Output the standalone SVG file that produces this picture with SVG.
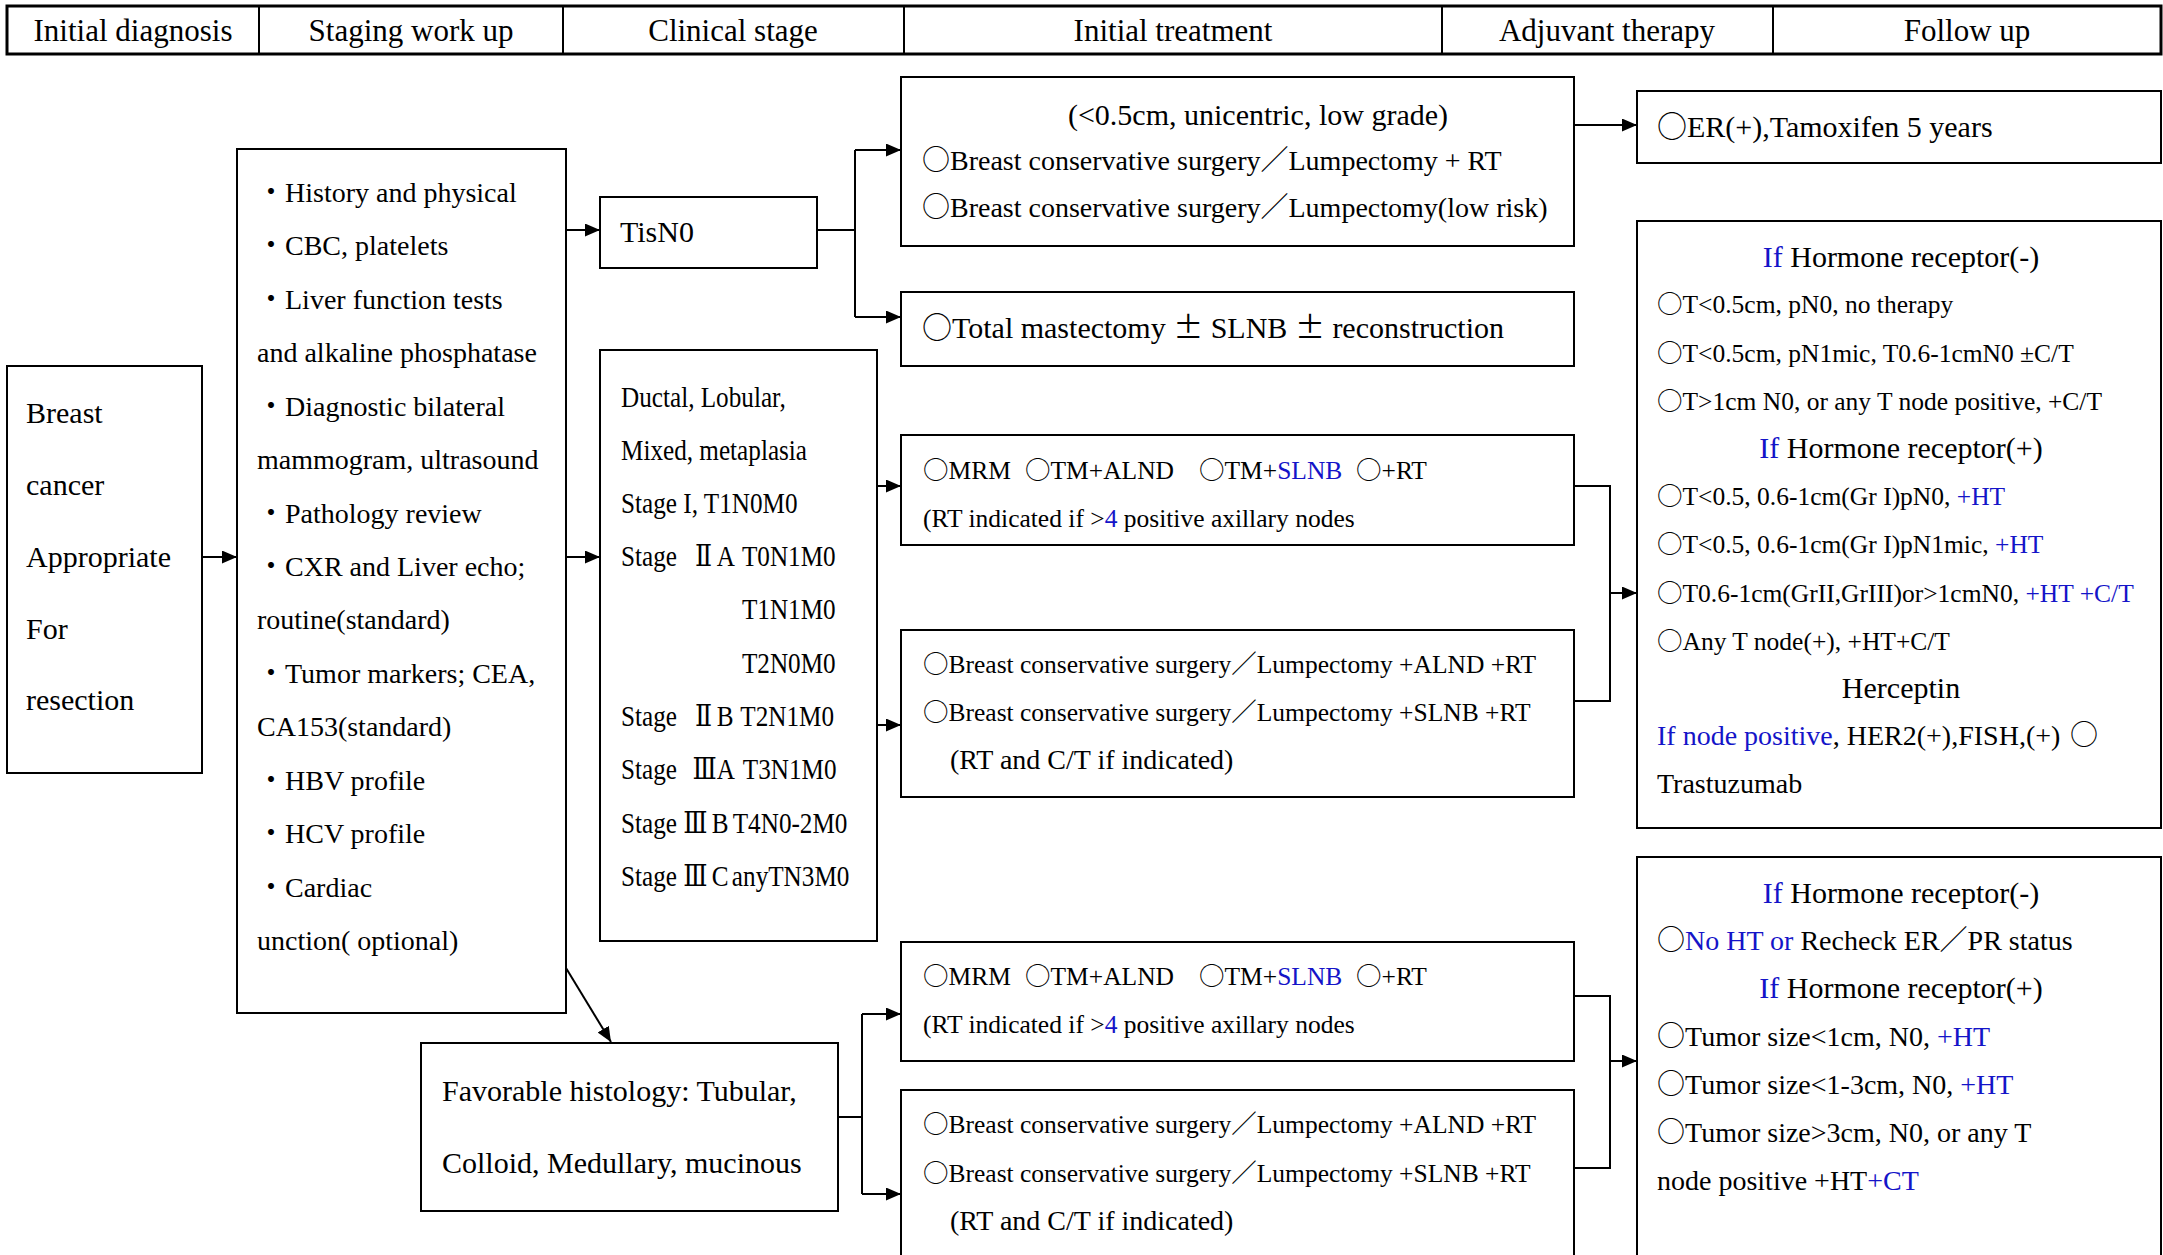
<svg xmlns="http://www.w3.org/2000/svg" width="2163" height="1255" viewBox="0 0 2163 1255">
<defs>
<style>
.box{fill:#fff;stroke:#000;stroke-width:2}
.hdr{fill:#fff;stroke:#000;stroke-width:3}
.t{font-family:"Liberation Serif","Noto Sans CJK TC",serif;fill:#000}
.b{fill:#1414c8}
.c{font-family:"Noto Sans CJK TC",sans-serif}
.r{font-family:"DejaVu Serif","Noto Sans CJK TC",serif}
.conn{fill:none;stroke:#000;stroke-width:2}
.h{font-size:31px;text-anchor:middle}
.s25{font-size:25.5px}
.s28{font-size:28px}
.s30{font-size:30px}
.mid{text-anchor:middle}
</style>
<marker id="ah" markerWidth="15" markerHeight="13" refX="15" refY="6.5" orient="auto" markerUnits="userSpaceOnUse"><path d="M0,0 L15,6.5 L0,13 z" fill="#000"/></marker>
</defs>
<rect width="2163" height="1255" fill="#fff"/>

<g id="header">
<rect class="hdr" x="7" y="6" width="2154" height="48"/>
<path class="conn" d="M259,6 V54 M563,6 V54 M904,6 V54 M1442,6 V54 M1773,6 V54"/>
<text class="t h" x="133" y="41">Initial diagnosis</text>
<text class="t h" x="411" y="41">Staging work up</text>
<text class="t h" x="733" y="41">Clinical stage</text>
<text class="t h" x="1173" y="41">Initial treatment</text>
<text class="t h" x="1607" y="41">Adjuvant therapy</text>
<text class="t h" x="1967" y="41">Follow up</text>
</g>

<g id="connectors">
<path class="conn" d="M201,557 H237" marker-end="url(#ah)"/>
<path class="conn" d="M566,230 H600" marker-end="url(#ah)"/>
<path class="conn" d="M566,557 H600" marker-end="url(#ah)"/>
<path class="conn" d="M817,230 H855 M855,150 V317"/>
<path class="conn" d="M855,150 H901" marker-end="url(#ah)"/>
<path class="conn" d="M855,317 H901" marker-end="url(#ah)"/>
<path class="conn" d="M1574,125 H1637" marker-end="url(#ah)"/>
<path class="conn" d="M877,486 H901" marker-end="url(#ah)"/>
<path class="conn" d="M877,725 H901" marker-end="url(#ah)"/>
<path class="conn" d="M1574,486 H1610 V701 H1574"/>
<path class="conn" d="M1610,593 H1637" marker-end="url(#ah)"/>
<path class="conn" d="M566,968 L611,1042" marker-end="url(#ah)"/>
<path class="conn" d="M838,1117 H862 M862,1014 V1194"/>
<path class="conn" d="M862,1014 H901" marker-end="url(#ah)"/>
<path class="conn" d="M862,1194 H901" marker-end="url(#ah)"/>
<path class="conn" d="M1574,996 H1610 V1168 H1574"/>
<path class="conn" d="M1610,1061 H1637" marker-end="url(#ah)"/>
</g>

<g id="breast-cancer">
<rect class="box" x="7" y="366" width="195" height="407"/>
<text class="t s30" x="26" y="423">Breast</text>
<text class="t s30" x="26" y="495">cancer</text>
<text class="t s30" x="26" y="567">Appropriate</text>
<text class="t s30" x="26" y="639">For</text>
<text class="t s30" x="26" y="710">resection</text>
</g>

<g id="staging-workup">
<rect class="box" x="237" y="149" width="329" height="864"/>
<g class="t s28">
<text x="257" y="202">・History and physical</text>
<text x="257" y="255">・CBC, platelets</text>
<text x="257" y="309">・Liver function tests</text>
<text x="257" y="362">and alkaline phosphatase</text>
<text x="257" y="416">・Diagnostic bilateral</text>
<text x="257" y="469">mammogram, ultrasound</text>
<text x="257" y="523">・Pathology review</text>
<text x="257" y="576">・CXR and Liver echo;</text>
<text x="257" y="629">routine(standard)</text>
<text x="257" y="683">・Tumor markers; CEA,</text>
<text x="257" y="736">CA153(standard)</text>
<text x="257" y="790">・HBV profile</text>
<text x="257" y="843">・HCV profile</text>
<text x="257" y="897">・Cardiac</text>
<text x="257" y="950">unction( optional)</text>
</g>
</g>

<g id="tisn0">
<rect class="box" x="600" y="197" width="217" height="71"/>
<text class="t s30" x="620" y="242">TisN0</text>
</g>

<g id="clinical-stage">
<rect class="box" x="600" y="350" width="277" height="591"/>
<g class="t s30" transform="translate(621,0) scale(0.84,1)">
<text x="0" y="407">Ductal, Lobular,</text>
<text x="0" y="460">Mixed, metaplasia</text>
<text x="0" y="513">Stage I, T1N0M0</text>
<text x="0" y="566">Stage<tspan class="r" x="88">Ⅱ</tspan><tspan x="114">A</tspan><tspan x="144">T0N1M0</tspan></text>
<text x="144" y="619">T1N1M0</text>
<text x="144" y="673">T2N0M0</text>
<text x="0" y="726">Stage<tspan class="r" x="88">Ⅱ</tspan><tspan x="114">B</tspan><tspan x="142">T2N1M0</tspan></text>
<text x="0" y="779">Stage<tspan class="r" x="85">Ⅲ</tspan><tspan x="114">A</tspan><tspan x="145">T3N1M0</tspan></text>
<text x="0" y="833">Stage<tspan class="r" x="74">Ⅲ</tspan><tspan x="108">B</tspan><tspan x="133">T4N0-2M0</tspan></text>
<text x="0" y="886">Stage<tspan class="r" x="74">Ⅲ</tspan><tspan x="108">C</tspan><tspan x="132">anyTN3M0</tspan></text>
</g>
</g>

<g id="treat-a">
<rect class="box" x="901" y="77" width="673" height="169"/>
<text class="t s30 mid" x="1258" y="125">(&lt;0.5cm, unicentric, low grade)</text>
<text class="t s28" x="922" y="170"><tspan class="c">○</tspan>Breast conservative surgery／Lumpectomy + RT</text>
<text class="t s28" x="922" y="217"><tspan class="c">○</tspan>Breast conservative surgery／Lumpectomy(low risk)</text>
</g>

<g id="treat-b">
<rect class="box" x="901" y="292" width="673" height="74"/>
<text class="t s30" x="922" y="338" xml:space="preserve"><tspan class="c">○</tspan>Total mastectomy <tspan class="c">±</tspan> SLNB <tspan class="c">±</tspan> reconstruction</text>
</g>

<g id="treat-c">
<rect class="box" x="901" y="435" width="673" height="110"/>
<text class="t s25" x="923" y="479"><tspan class="c">○</tspan>MRM<tspan class="c" x="1025">○</tspan>TM+ALND<tspan class="c" x="1199">○</tspan>TM+<tspan class="b">SLNB</tspan><tspan class="c" x="1356">○</tspan>+RT</text>
<text class="t s25" x="923" y="527">(RT indicated if &gt;<tspan class="b">4</tspan> positive axillary nodes</text>
</g>

<g id="treat-d">
<rect class="box" x="901" y="630" width="673" height="167"/>
<text class="t s25" x="923" y="673"><tspan class="c">○</tspan>Breast conservative surgery／Lumpectomy +ALND +RT</text>
<text class="t s25" x="923" y="721"><tspan class="c">○</tspan>Breast conservative surgery／Lumpectomy +SLNB +RT</text>
<text class="t s28" x="950" y="769">(RT and C/T if indicated)</text>
</g>

<g id="er-tamoxifen">
<rect class="box" x="1637" y="91" width="524" height="72"/>
<text class="t s30" x="1657" y="137"><tspan class="c">○</tspan>ER(+),Tamoxifen 5 years</text>
</g>

<g id="adjuvant-1">
<rect class="box" x="1637" y="221" width="524" height="607"/>
<text class="t s30 mid" x="1901" y="267"><tspan class="b">If</tspan> Hormone receptor(-)</text>
<text class="t s25" x="1657" y="313"><tspan class="c">○</tspan>T&lt;0.5cm, pN0, no therapy</text>
<text class="t s25" x="1657" y="362"><tspan class="c">○</tspan>T&lt;0.5cm, pN1mic, T0.6-1cmN0 ±C/T</text>
<text class="t s25" x="1657" y="410"><tspan class="c">○</tspan>T&gt;1cm N0, or any T node positive, +C/T</text>
<text class="t s30 mid" x="1901" y="458"><tspan class="b">If</tspan> Hormone receptor(+)</text>
<text class="t s25" x="1657" y="505"><tspan class="c">○</tspan>T&lt;0.5, 0.6-1cm(Gr I)pN0, <tspan class="b">+HT</tspan></text>
<text class="t s25" x="1657" y="553"><tspan class="c">○</tspan>T&lt;0.5, 0.6-1cm(Gr I)pN1mic, <tspan class="b">+HT</tspan></text>
<text class="t s25" x="1657" y="602"><tspan class="c">○</tspan>T0.6-1cm(GrII,GrIII)or&gt;1cmN0, <tspan class="b">+HT +C/T</tspan></text>
<text class="t s25" x="1657" y="650"><tspan class="c">○</tspan>Any T node(+), +HT+C/T</text>
<text class="t s30 mid" x="1901" y="698">Herceptin</text>
<text class="t s28" x="1657" y="745"><tspan class="b">If node positive</tspan>, HER2(+),FISH,(+)<tspan class="c" x="2070">○</tspan></text>
<text class="t s28" x="1657" y="793">Trastuzumab</text>
</g>

<g id="favorable-histology">
<rect class="box" x="421" y="1043" width="417" height="168"/>
<text class="t s30" x="442" y="1101">Favorable histology: Tubular,</text>
<text class="t s30" x="442" y="1173">Colloid, Medullary, mucinous</text>
</g>

<g id="treat-e">
<rect class="box" x="901" y="942" width="673" height="119"/>
<text class="t s25" x="923" y="985"><tspan class="c">○</tspan>MRM<tspan class="c" x="1025">○</tspan>TM+ALND<tspan class="c" x="1199">○</tspan>TM+<tspan class="b">SLNB</tspan><tspan class="c" x="1356">○</tspan>+RT</text>
<text class="t s25" x="923" y="1033">(RT indicated if &gt;<tspan class="b">4</tspan> positive axillary nodes</text>
</g>

<g id="treat-f">
<rect class="box" x="901" y="1090" width="673" height="200"/>
<text class="t s25" x="923" y="1133"><tspan class="c">○</tspan>Breast conservative surgery／Lumpectomy +ALND +RT</text>
<text class="t s25" x="923" y="1182"><tspan class="c">○</tspan>Breast conservative surgery／Lumpectomy +SLNB +RT</text>
<text class="t s28" x="950" y="1230">(RT and C/T if indicated)</text>
</g>

<g id="adjuvant-2">
<rect class="box" x="1637" y="857" width="524" height="450"/>
<text class="t s30 mid" x="1901" y="903"><tspan class="b">If</tspan> Hormone receptor(-)</text>
<text class="t s28" x="1657" y="950"><tspan class="c">○</tspan><tspan class="b">No HT or</tspan> Recheck ER／PR status</text>
<text class="t s30 mid" x="1901" y="998"><tspan class="b">If</tspan> Hormone receptor(+)</text>
<text class="t s28" x="1657" y="1046"><tspan class="c">○</tspan>Tumor size&lt;1cm, N0, <tspan class="b">+HT</tspan></text>
<text class="t s28" x="1657" y="1094"><tspan class="c">○</tspan>Tumor size&lt;1-3cm, N0, <tspan class="b">+HT</tspan></text>
<text class="t s28" x="1657" y="1142"><tspan class="c">○</tspan>Tumor size&gt;3cm, N0, or any T</text>
<text class="t s28" x="1657" y="1190">node positive +HT<tspan class="b">+CT</tspan></text>
</g>
</svg>
